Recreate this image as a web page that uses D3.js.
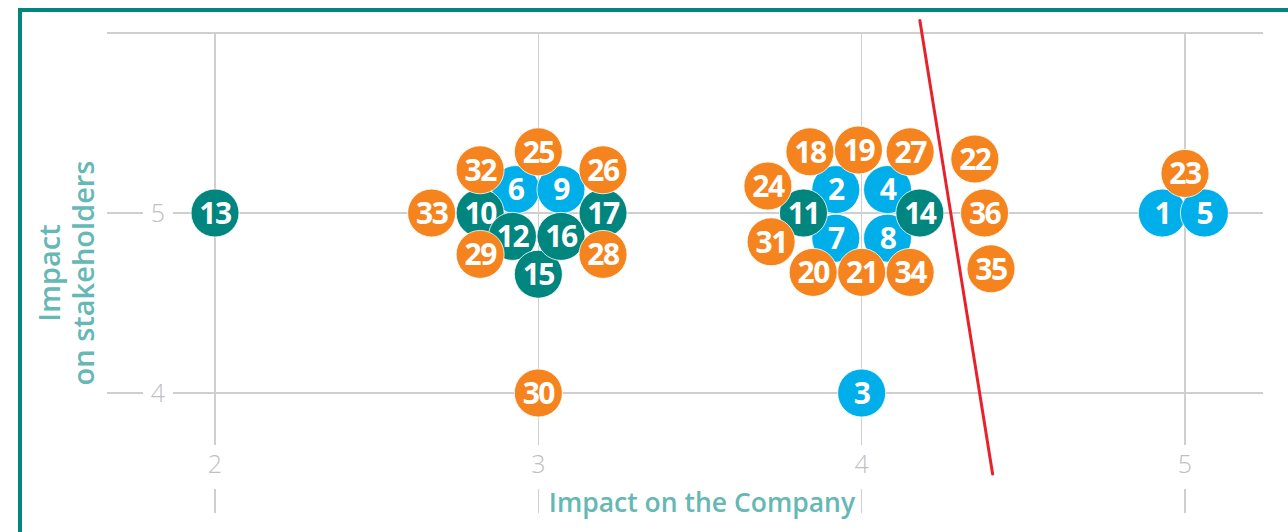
<!DOCTYPE html>
<html>
<head>
<meta charset="utf-8">
<script src="https://cdn.jsdelivr.net/npm/d3@7"></script>
<style>
  html, body { margin: 0; padding: 0; background: #fff; }
  svg { display: block; }
</style>
</head>
<body>
<svg id="chart" width="1288" height="532"></svg>
<script>
// ---- data ----
const xTicks = [2, 3, 4, 5];
const yTicks = [4, 5];
const yTop = 6;
const xTitle = "Impact on the Company";
const yTitleLines = ["Impact", "on stakeholders"];

// [id, impact on the company, impact on stakeholders]
const blueSeries = [
  [1, 4.93, 5.00], [2, 3.92, 5.13], [3, 4.00, 4.00], [4, 4.08, 5.13],
  [5, 5.06, 5.00], [6, 2.93, 5.13], [7, 3.92, 4.86], [8, 4.08, 4.86],
  [9, 3.07, 5.13]
];
const tealSeries = [
  [10, 2.82, 5.00], [11, 3.82, 5.00], [12, 2.92, 4.87], [13, 2.00, 5.00],
  [14, 4.18, 5.00], [15, 3.00, 4.66], [16, 3.07, 4.87], [17, 3.20, 5.00]
];
const orangeSeries = [
  [18, 3.84, 5.34], [19, 3.99, 5.35], [20, 3.85, 4.67], [21, 4.00, 4.67],
  [22, 4.35, 5.30], [23, 5.00, 5.22], [24, 3.71, 5.15], [25, 3.00, 5.34],
  [26, 3.20, 5.24], [27, 4.15, 5.34], [28, 3.20, 4.77], [29, 2.82, 4.77],
  [30, 3.00, 4.00], [31, 3.72, 4.84], [32, 2.82, 5.24], [33, 2.67, 5.00],
  [34, 4.15, 4.67], [35, 4.40, 4.69], [36, 4.38, 5.00]
];
const thresholdLine = [[4.18, 6.07], [4.405, 3.55]];

const seriesColors = { blue: "#00aee9", teal: "#00857f", orange: "#f5841f" };

// ---- drawing ----
const svg = d3.select("#chart");
const x = d3.scaleLinear().domain([2, 5]).range([215, 1185]);
const y = d3.scaleLinear().domain([4, 5]).range([393, 213]);

const gridColor = "#cfcfcf";
const plotLeft = 173, plotRight = 1263;
const gridBottom = 445;

// frame
svg.append("rect")
  .attr("x", 20).attr("y", 10).attr("width", 1400).attr("height", 700)
  .attr("fill", "none").attr("stroke", "#00857f").attr("stroke-width", 4);

const grid = svg.append("g").attr("stroke", gridColor).attr("stroke-width", 1.2).attr("shape-rendering", "crispEdges");

// top line
grid.append("line")
  .attr("x1", 107).attr("x2", plotRight)
  .attr("y1", y(yTop)).attr("y2", y(yTop));

// horizontal gridlines with left tick segments
yTicks.forEach(v => {
  grid.append("line").attr("x1", plotLeft).attr("x2", plotRight).attr("y1", y(v)).attr("y2", y(v));
  grid.append("line").attr("x1", 107).attr("x2", 143).attr("y1", y(v)).attr("y2", y(v));
});
// vertical gridlines with bottom tick segments
xTicks.forEach(v => {
  grid.append("line").attr("x1", x(v)).attr("x2", x(v)).attr("y1", y(yTop)).attr("y2", gridBottom);
  grid.append("line").attr("x1", x(v)).attr("x2", x(v)).attr("y1", 489).attr("y2", 513);
});

const tickFont = "'Open Sans', 'DejaVu Sans', sans-serif";
svg.append("g").selectAll("text").data(yTicks).join("text")
  .attr("x", 158).attr("y", d => y(d) + 9)
  .attr("text-anchor", "middle")
  .attr("font-family", tickFont).attr("font-weight", 300).attr("font-size", 25)
  .attr("fill", "#c0c0c0")
  .text(d => d);

svg.append("g").selectAll("text").data(xTicks).join("text")
  .attr("x", d => x(d)).attr("y", 473)
  .attr("text-anchor", "middle")
  .attr("font-family", tickFont).attr("font-weight", 300).attr("font-size", 25)
  .attr("fill", "#c0c0c0")
  .text(d => d);

// axis titles
const titleColor = "#66b8b4";
svg.append("text")
  .attr("x", (x(3) + x(4)) / 2 + 2).attr("y", 512)
  .attr("text-anchor", "middle")
  .attr("font-family", tickFont).attr("font-weight", 600).attr("font-size", 26.5)
  .attr("fill", titleColor)
  .text(xTitle);

const yt = svg.append("g");
yTitleLines.forEach((t, i) => {
  yt.append("text")
    .attr("transform", `translate(${60 + i * 34},273) rotate(-90)`)
    .attr("text-anchor", "middle")
    .attr("font-family", tickFont).attr("font-weight", 600).attr("font-size", 29)
    .attr("fill", titleColor)
    .text(t);
});

// threshold line
svg.append("line")
  .attr("x1", x(thresholdLine[0][0])).attr("y1", y(thresholdLine[0][1]))
  .attr("x2", x(thresholdLine[1][0])).attr("y2", y(thresholdLine[1][1]))
  .attr("stroke", "#e8222c").attr("stroke-width", 3).attr("stroke-linecap", "round");

// bubbles
const points = [
  ...blueSeries.map(d => ({ id: d[0], x: d[1], y: d[2], c: seriesColors.blue })),
  ...tealSeries.map(d => ({ id: d[0], x: d[1], y: d[2], c: seriesColors.teal })),
  ...orangeSeries.map(d => ({ id: d[0], x: d[1], y: d[2], c: seriesColors.orange }))
].sort((a, b) => a.id - b.id);

const g = svg.append("g");
const node = g.selectAll("g").data(points).join("g")
  .attr("transform", d => `translate(${x(d.x)},${y(d.y)})`);
node.append("circle")
  .attr("r", 24)
  .attr("fill", d => d.c)
  .attr("stroke", "#ffffff").attr("stroke-width", 0.8);
node.append("text")
  .attr("text-anchor", "middle")
  .attr("dy", "0.36em")
  .attr("font-family", "'Open Sans', 'DejaVu Sans', sans-serif")
  .attr("font-weight", 700).attr("font-size", 30)
  .attr("letter-spacing", -1.5)
  .attr("fill", "#ffffff")
  .text(d => d.id);
</script>
</body>
</html>
